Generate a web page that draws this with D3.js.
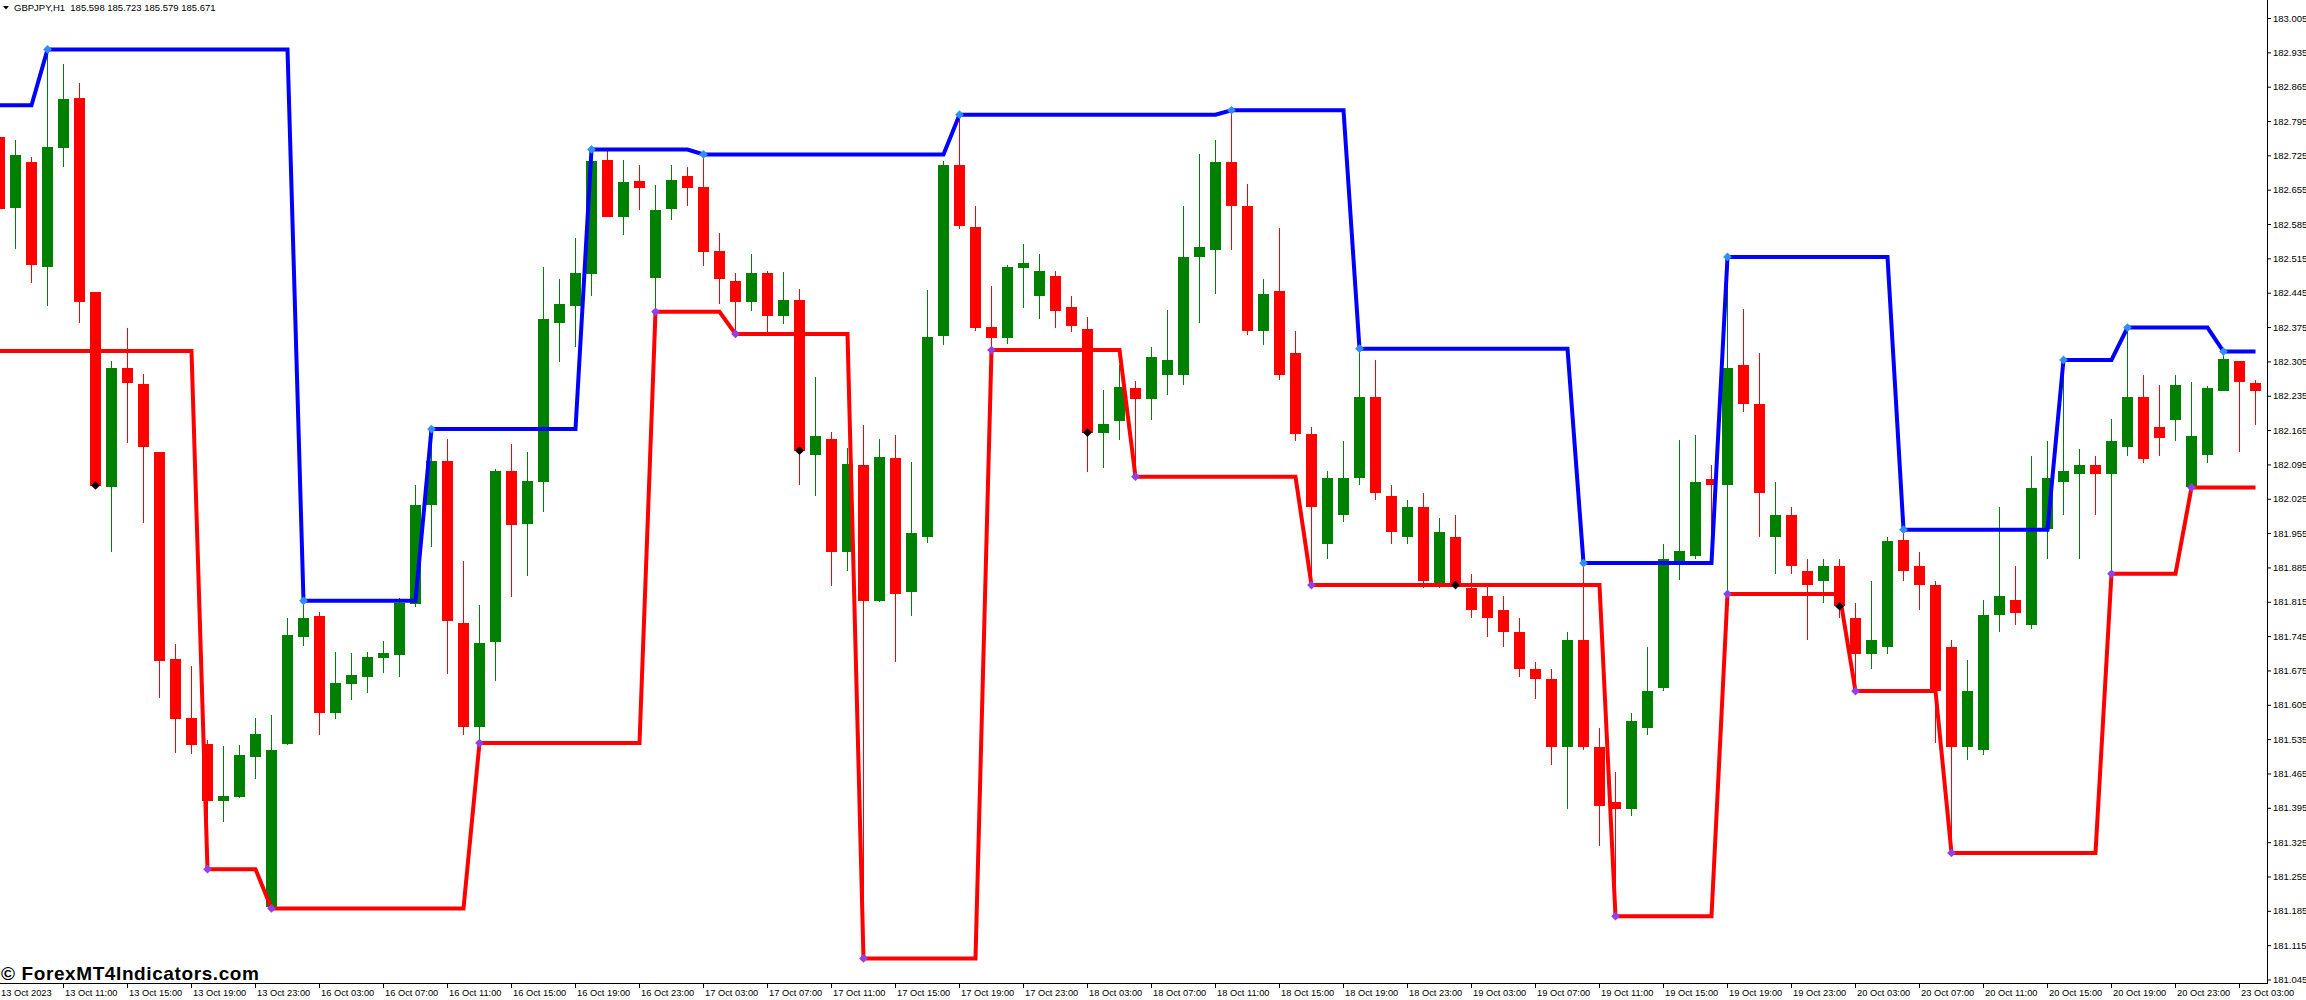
<!DOCTYPE html>
<html><head><meta charset="utf-8">
<script src="https://cdn.jsdelivr.net/npm/d3@7"></script>
<style>
html,body{margin:0;padding:0;background:#fff;overflow:hidden;}
svg{display:block;}
text{font-family:"Liberation Sans",Arial,sans-serif;}
</style></head><body>
<svg id="chart" width="2306" height="1000"></svg>
<script>
// ---------------- data ----------------
const symbolTitle = "GBPJPY,H1  185.598 185.723 185.579 185.671";
const watermark = "\u00A9 ForexMT4Indicators.com";

const openP = [
182.763,182.618,182.712,182.499,182.740,182.843,182.447,182.050,182.293,182.260,
182.121,181.699,181.579,181.526,181.410,181.419,181.500,181.194,181.527,181.745,
181.787,181.590,181.649,181.663,181.702,181.707,181.812,182.013,182.103,181.773,
181.561,181.735,182.083,181.975,182.061,182.385,182.418,182.485,182.717,182.601,
182.674,182.475,182.617,182.684,182.662,182.531,182.470,182.428,182.486,182.399,
182.431,182.116,182.148,181.917,182.095,181.818,182.109,181.835,181.949,182.357,
182.706,182.580,182.376,182.354,182.497,182.440,182.480,182.417,182.372,182.161,
182.185,182.252,182.230,182.278,182.278,182.519,182.533,182.712,182.623,182.368,
182.450,182.323,182.158,181.934,181.993,182.068,182.233,182.032,181.948,182.009,
181.852,181.948,181.844,181.828,181.799,181.754,181.679,181.659,181.520,181.738,
181.520,181.408,181.394,181.559,181.640,181.897,181.909,182.066,182.054,182.299,
182.219,181.948,181.993,181.879,181.858,181.889,181.783,181.710,181.724,181.942,
181.889,181.850,181.724,181.520,181.514,181.789,181.820,181.769,181.964,182.060,
182.076,182.095,182.076,182.132,182.233,182.172,182.186,182.049,182.116,182.246,
182.307,182.261];
const highP = [
182.778,182.757,182.723,182.942,182.912,182.874,182.447,182.307,182.375,182.280,
182.121,181.730,181.685,181.534,181.522,181.524,181.579,181.585,181.783,181.818,
181.795,181.714,181.712,181.714,181.736,181.824,182.054,182.168,182.148,181.899,
181.809,182.087,182.138,182.121,182.498,182.474,182.558,182.738,182.737,182.717,
182.706,182.665,182.706,182.702,182.728,182.568,182.486,182.525,182.490,182.489,
182.454,182.275,182.162,182.129,182.176,182.148,182.156,182.101,182.452,182.715,
182.809,182.623,182.460,182.503,182.545,182.525,182.490,182.439,182.397,182.248,
182.299,182.266,182.335,182.411,182.623,182.729,182.757,182.818,182.668,182.474,
182.578,182.368,182.172,182.083,182.144,182.332,182.309,182.054,182.023,182.038,
181.987,181.993,181.873,181.850,181.828,181.783,181.693,181.679,181.754,181.895,
181.559,181.469,181.589,181.724,181.934,182.146,182.156,182.095,182.519,182.413,
182.323,182.060,182.009,181.903,181.903,181.903,181.814,181.858,181.948,181.963,
181.917,181.858,181.738,181.697,181.820,182.009,181.889,182.113,182.144,182.309,
182.127,182.113,182.189,182.375,182.278,182.258,182.278,182.263,182.256,182.326,
182.307,182.269];
const lowP = [
182.611,182.535,182.466,182.419,182.703,182.384,182.050,181.918,182.140,181.977,
181.620,181.508,181.505,181.271,181.368,181.415,181.455,181.191,181.524,181.726,
181.545,181.577,181.616,181.631,181.671,181.663,181.806,181.928,181.669,181.544,
181.528,181.655,181.826,181.869,182.000,182.305,182.336,182.440,182.600,182.564,
182.615,182.407,182.595,182.623,182.501,182.424,182.362,182.409,182.364,182.382,
182.055,182.031,181.849,181.878,181.089,181.816,181.693,181.787,181.935,182.339,
182.576,182.367,182.329,182.342,182.415,182.393,182.375,182.365,182.081,182.089,
182.146,182.071,182.186,182.237,182.258,182.384,182.443,182.533,182.360,182.339,
182.268,182.144,181.850,181.903,181.979,182.054,182.023,181.934,181.934,181.844,
181.844,181.844,181.783,181.744,181.724,181.663,181.618,181.483,181.394,181.514,
181.318,181.175,181.379,181.544,181.634,181.860,181.903,181.901,181.832,182.203,
181.948,181.873,181.873,181.738,181.814,181.783,181.634,181.679,181.710,181.858,
181.799,181.528,181.304,181.493,181.504,181.754,181.769,181.760,181.903,181.993,
181.903,181.993,181.873,182.113,182.099,182.113,182.144,182.049,182.098,182.246,
182.122,182.176];
const closeP = [
182.616,182.727,182.503,182.743,182.841,182.428,182.053,182.293,182.261,182.132,
181.695,181.578,181.524,181.410,181.420,181.504,181.546,181.514,181.748,181.783,
181.590,181.650,181.667,181.703,181.712,181.814,182.013,182.103,181.777,181.561,
181.732,182.083,181.973,182.062,182.392,182.423,182.486,182.715,182.601,182.672,
182.660,182.615,182.676,182.660,182.530,182.473,182.428,182.486,182.399,182.431,
182.124,182.154,181.917,182.097,181.818,182.111,181.832,181.956,182.356,182.706,
182.583,182.375,182.354,182.498,182.507,182.490,182.409,182.379,182.161,182.178,
182.254,182.230,182.315,182.309,182.519,182.539,182.712,182.623,182.368,182.443,
182.278,182.158,182.009,182.068,182.068,182.233,182.038,181.958,182.009,181.858,
181.958,181.850,181.799,181.783,181.754,181.679,181.659,181.520,181.738,181.520,
181.400,181.394,181.573,181.634,181.903,181.919,182.060,182.054,182.293,182.219,
182.038,181.993,181.889,181.850,181.889,181.807,181.710,181.738,181.940,181.879,
181.850,181.634,181.520,181.634,181.789,181.828,181.793,182.048,182.068,182.083,
182.095,182.076,182.144,182.233,182.107,182.150,182.258,182.154,182.251,182.311,
182.263,182.246];

// upper (blue) and lower (red) band: bar index where each level starts, and the level
const upperStart = [0,3,19,27,37,44,60,77,85,99,108,119,129,133,139];
const upperLevel = [182.828,182.942,181.818,182.168,182.738,182.728,182.809,182.818,182.332,181.895,182.519,181.963,182.309,182.375,182.326];
const lowerStart = [0,13,17,30,41,46,54,62,71,82,101,108,116,122,132,137];
const lowerLevel = [182.327,181.271,181.191,181.528,182.407,182.362,181.089,182.329,182.071,181.850,181.175,181.832,181.634,181.304,181.873,182.049];
// bars with a black signal diamond at the close
const signalBars = [6,50,68,91,115];

const priceTicks = ["183.005","182.935","182.865","182.795","182.725","182.655","182.585","182.515",
"182.445","182.375","182.305","182.235","182.165","182.095","182.025","181.955","181.885","181.815",
"181.745","181.675","181.605","181.535","181.465","181.395","181.325","181.255","181.185","181.115","181.045"];

const timeBars = [0,4,8,12,16,20,24,28,32,36,40,44,48,52,56,60,64,68,72,76,80,84,88,92,96,100,104,108,112,116,120,124,128,132,136,140];
const timeLabels = ["13 Oct 2023","13 Oct 11:00","13 Oct 15:00","13 Oct 19:00","13 Oct 23:00",
"16 Oct 03:00","16 Oct 07:00","16 Oct 11:00","16 Oct 15:00","16 Oct 19:00","16 Oct 23:00",
"17 Oct 03:00","17 Oct 07:00","17 Oct 11:00","17 Oct 15:00","17 Oct 19:00","17 Oct 23:00",
"18 Oct 03:00","18 Oct 07:00","18 Oct 11:00","18 Oct 15:00","18 Oct 19:00","18 Oct 23:00",
"19 Oct 03:00","19 Oct 07:00","19 Oct 11:00","19 Oct 15:00","19 Oct 19:00","19 Oct 23:00",
"20 Oct 03:00","20 Oct 07:00","20 Oct 11:00","20 Oct 15:00","20 Oct 19:00","20 Oct 23:00","23 Oct 03:00"];

// ---------------- drawing ----------------
const n = openP.length;
const plotRight = 2267, plotBottom = 983;
const svg = d3.select("#chart");
svg.append("rect").attr("width",2306).attr("height",1000).attr("fill","#fff");

const x = d3.scaleLinear().domain([0, 141]).range([-0.5, 2255.5]);
const y = d3.scaleLinear().domain([181.045, 183.005]).range([980, 18.5]);

svg.append("defs").append("clipPath").attr("id","plotclip")
  .append("rect").attr("x",0).attr("y",0).attr("width",plotRight).attr("height",plotBottom);
const plot = svg.append("g").attr("clip-path","url(#plotclip)");

const bars = d3.range(n).map(i => ({i, o:openP[i], h:highP[i], l:lowP[i], c:closeP[i]}));
const GREEN = "#008000", RED = "#ff0000";
const col = d => d.c >= d.o ? GREEN : RED;

// wicks
plot.append("g").selectAll("rect").data(bars).join("rect")
  .attr("x", d => Math.floor(x(d.i)))
  .attr("width", 1)
  .attr("y", d => Math.round(y(d.h)))
  .attr("height", d => Math.max(1, Math.round(y(d.l)) - Math.round(y(d.h))))
  .attr("fill", col);
// bodies
plot.append("g").selectAll("rect").data(bars).join("rect")
  .attr("x", d => Math.round(x(d.i) - 5.5))
  .attr("width", 11)
  .attr("y", d => Math.round(y(Math.max(d.o, d.c))))
  .attr("height", d => Math.max(1, Math.round(y(Math.min(d.o, d.c))) - Math.round(y(Math.max(d.o, d.c)))))
  .attr("fill", col);

// band lines
function expandSteps(starts, levels, len){
  const out = [];
  for (let s = 0; s < starts.length; s++){
    const end = s + 1 < starts.length ? starts[s+1] : len;
    for (let i = starts[s]; i < end; i++) out.push(levels[s]);
  }
  return out;
}
const upper = expandSteps(upperStart, upperLevel, n);
const lower = expandSteps(lowerStart, lowerLevel, n);
const line = d3.line().x((d,i) => x(i)).y(d => y(d));
plot.append("path").attr("d", line(lower)).attr("fill","none")
  .attr("stroke","#ff0000").attr("stroke-width",4).attr("stroke-linejoin","miter");
plot.append("path").attr("d", line(upper)).attr("fill","none")
  .attr("stroke","#0000ff").attr("stroke-width",4).attr("stroke-linejoin","miter");

// markers
const diamond = d3.symbol().type(d3.symbolSquare).size(38);
function markers(idx, vals, fill){
  plot.append("g").selectAll("path").data(idx).join("path")
    .attr("d", diamond)
    .attr("transform", (d,k) => `translate(${x(d)},${y(vals[k])}) rotate(45)`)
    .attr("fill", fill);
}
markers(upperStart.slice(1), upperLevel.slice(1), "#2f8fff");
markers(lowerStart.slice(1), lowerLevel.slice(1), "#9440e8");
markers(signalBars, signalBars.map(i => closeP[i]), "#000");

// frame
svg.append("rect").attr("x",plotRight).attr("y",0).attr("width",1).attr("height",plotBottom+1).attr("fill","#000");
svg.append("rect").attr("x",0).attr("y",plotBottom).attr("width",plotRight+1).attr("height",1).attr("fill","#000");

// price axis
const yAxis = d3.axisRight(y)
  .tickValues(priceTicks.map(Number))
  .tickFormat((d,i) => priceTicks[i])
  .tickSize(3).tickSizeOuter(0).tickPadding(2).offset(0);
const gy = svg.append("g").attr("transform",`translate(${plotRight+1},0)`).call(yAxis);
gy.select(".domain").remove();
gy.selectAll("text").attr("font-family","Liberation Sans, Arial, sans-serif").attr("font-size","9.5px").attr("fill","#000");
gy.selectAll("line").attr("stroke","#000");

// time axis
const xAxis = d3.axisBottom(x)
  .tickValues(timeBars)
  .tickFormat((d,i) => timeLabels[i])
  .tickSize(4).tickSizeOuter(0).offset(0);
const gx = svg.append("g").attr("transform",`translate(0,${plotBottom+1})`).call(xAxis);
gx.select(".domain").remove();
gx.selectAll("text").attr("text-anchor","start").attr("x",1.5).attr("y",5)
  .attr("font-family","Liberation Sans, Arial, sans-serif").attr("font-size","9.3px").attr("fill","#000");
gx.selectAll("line").attr("stroke","#000");

// header
svg.append("path").attr("d","M3,6L9,6L6,9.5Z").attr("fill","#000");
svg.append("text").attr("x",14).attr("y",11).attr("font-size","9.5px").attr("fill","#000")
  .style("white-space","pre").text(symbolTitle);

// watermark
svg.append("text").attr("x",1).attr("y",980)
  .attr("font-family","DejaVu Sans, sans-serif").attr("font-weight","bold").attr("font-size","19px")
  .attr("letter-spacing","0.6px")
  .attr("fill","#000").text(watermark);
</script>
</body></html>
